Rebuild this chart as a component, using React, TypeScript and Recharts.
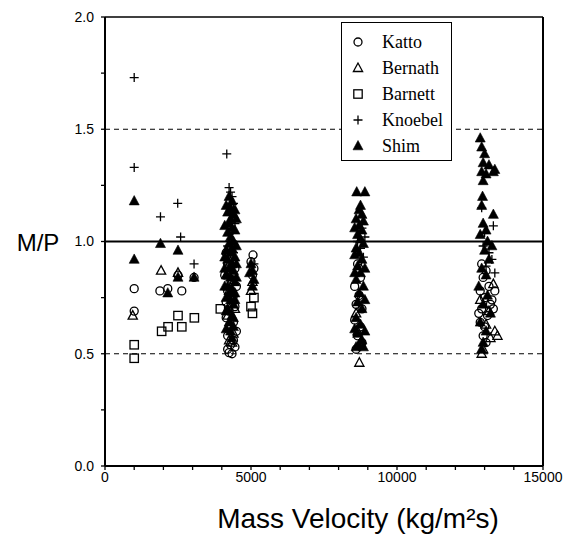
import React from 'react';
import { ScatterChart, Scatter, XAxis, YAxis, ReferenceLine, Label } from 'recharts';

// ---- Data (mass velocity kg/m2s, M/P ratio) ----
const katto: [number, number][] = [
  [1000, 0.79], [1000, 0.69], [1880, 0.78], [2150, 0.79], [2630, 0.78], [2500, 0.85], [3050, 0.84],
  [4150, 0.95], [4300, 0.93], [4200, 0.90], [4450, 0.88], [4100, 0.85], [4350, 0.83], [4500, 0.80],
  [4200, 0.78], [4400, 0.76], [4150, 0.73], [4450, 0.71], [4250, 0.69], [4150, 0.66], [4400, 0.64],
  [4300, 0.62], [4500, 0.60], [4200, 0.58], [4400, 0.56], [4300, 0.54], [4450, 0.53], [4200, 0.52],
  [4350, 0.50], [4250, 0.505],
  [5070, 0.94], [5000, 0.91], [5100, 0.88], [5050, 0.85],
  [8650, 0.90], [8700, 0.88], [8750, 0.84], [8550, 0.80], [8700, 0.76], [8600, 0.72], [8800, 0.70],
  [8550, 0.65], [8750, 0.62], [8650, 0.58], [8800, 0.55], [8600, 0.52],
  [12900, 0.90], [13050, 0.87], [12950, 0.84], [13150, 0.80], [12850, 0.78], [13350, 0.78], [13000, 0.75],
  [13250, 0.74], [13200, 0.72], [12900, 0.70], [13300, 0.70], [12800, 0.68], [13100, 0.67], [12850, 0.64],
  [13000, 0.62], [12950, 0.58], [13050, 0.55],
];

const bernath: [number, number][] = [
  [950, 0.67], [1920, 0.87], [2500, 0.86],
  [4300, 0.91], [4200, 0.86], [4400, 0.82], [4250, 0.78], [4350, 0.74], [4450, 0.70], [4200, 0.67],
  [4300, 0.63], [4400, 0.59], [4250, 0.56], [4350, 0.55],
  [5050, 0.82], [5000, 0.78],
  [8710, 0.46], [8600, 0.68], [8800, 0.75], [8650, 0.60], [8750, 0.55],
  [13300, 0.81], [13440, 0.58], [12950, 0.52], [12900, 0.50], [13200, 0.57], [13050, 0.63],
  [12850, 0.74], [13150, 0.69], [13350, 0.60],
];

const barnett: [number, number][] = [
  [1000, 0.54], [1000, 0.48], [1940, 0.60], [2160, 0.62], [2500, 0.67], [2630, 0.62], [3060, 0.66],
  [3950, 0.70], [5100, 0.75], [5000, 0.71], [5050, 0.68],
];

const knoebel: [number, number][] = [
  [1000, 1.73], [1000, 1.33], [1900, 1.11], [2490, 1.17], [2590, 1.02], [3050, 0.90],
  [4170, 1.39], [4250, 1.24], [4300, 1.22], [4350, 1.20], [4400, 1.17], [4300, 1.12], [4450, 1.08],
  [4250, 1.03], [4200, 0.98], [4400, 0.95], [4350, 0.90], [5100, 0.90],
  [8800, 1.06], [8900, 1.02], [8650, 1.00], [8750, 0.97], [8850, 0.93],
  [12900, 1.15], [13300, 1.07], [13000, 1.04], [12950, 0.98], [13150, 0.95], [13250, 0.92],
  [13050, 0.89], [13350, 0.86],
];

const shim: [number, number][] = [
  [1000, 1.18], [1000, 0.92], [1900, 0.99], [2500, 0.96], [2500, 0.84], [3050, 0.84], [2150, 0.77],
  [4250, 1.20], [4350, 1.18], [4300, 1.15], [4200, 1.13], [4400, 1.12], [4300, 1.10], [4250, 1.08],
  [4350, 1.06], [4450, 1.05], [4200, 1.04], [4300, 1.02], [4400, 1.00], [4250, 0.99], [4350, 0.97],
  [4150, 0.96], [4300, 0.95], [4450, 0.93], [4200, 0.92], [4350, 0.90], [4250, 0.88], [4400, 0.87],
  [4150, 0.85], [4300, 0.84], [4450, 0.82], [4200, 0.80], [4350, 0.79], [4250, 0.77], [4300, 0.74],
  [4400, 0.72], [4200, 0.70], [4350, 0.67], [4250, 0.64], [4300, 0.60],
  [4150, 1.16], [4450, 1.14], [4500, 1.10], [4100, 1.07], [4500, 0.98], [4100, 0.93], [4500, 0.90],
  [4100, 0.88], [4500, 0.84], [4100, 0.80], [4450, 0.77], [4150, 0.75], [4450, 0.74], [4400, 0.66],
  [4150, 0.69], [4400, 0.62], [4150, 0.61], [4350, 0.57],
  [5000, 0.90], [5050, 0.87], [4950, 0.86], [5100, 0.83], [5050, 0.80],
  [8620, 1.22], [8900, 1.22], [8750, 1.16], [8700, 1.14], [8800, 1.12], [8600, 1.10], [8850, 1.09],
  [8700, 1.07], [8550, 1.06], [8800, 1.05], [8650, 1.03], [8750, 1.01], [8850, 0.99], [8600, 0.97],
  [8700, 0.95], [8800, 0.92], [8650, 0.89], [8750, 0.86], [8600, 0.83], [8850, 0.80], [8700, 0.77],
  [8650, 0.73], [8800, 0.70], [8600, 0.66], [8750, 0.63], [8650, 0.59], [8800, 0.56], [8700, 0.54],
  [8600, 0.53], [8850, 0.53], [8550, 0.94], [8900, 0.88], [8550, 0.86], [8900, 0.74], [8550, 0.61],
  [8900, 0.60],
  [12850, 1.46], [12900, 1.42], [13000, 1.39], [12950, 1.35], [13150, 1.34], [13350, 1.32],
  [12900, 1.31], [13050, 1.30], [13300, 1.31], [12950, 1.27], [12930, 1.20], [12900, 1.16],
  [13300, 1.12], [12950, 1.08], [13050, 1.05], [12850, 1.03], [13100, 1.00], [13250, 0.98],
  [13000, 0.96], [13150, 0.92], [12900, 0.88], [13050, 0.85], [12800, 0.80], [13100, 0.76],
  [12950, 0.72], [13200, 0.68], [12850, 0.64], [13050, 0.60], [12950, 0.55], [12900, 0.52],
];

const xTicks = [0, 1000, 2000, 3000, 4000, 5000, 6000, 7000, 8000, 9000, 10000, 11000, 12000, 13000, 14000, 15000];
const yTicks = [0, 0.25, 0.5, 0.75, 1.0, 1.25, 1.5, 1.75, 2.0];

const toPts = (arr: [number, number][]) => arr.map(([x, y]) => ({ x, y }));

const INK = '#000';
const SANS = '"Liberation Sans", Arial, Helvetica, sans-serif';
const SERIF = '"Liberation Serif", "Times New Roman", serif';

const OpenCircle = (p: any) => (
  <circle cx={p.cx} cy={p.cy} r={4} fill="none" stroke={INK} strokeWidth={1.3} />
);
const OpenTriangle = (p: any) => (
  <polygon
    points={`${p.cx},${p.cy - 5} ${p.cx - 4.6},${p.cy + 3.5} ${p.cx + 4.6},${p.cy + 3.5}`}
    fill="none" stroke={INK} strokeWidth={1.3}
  />
);
const OpenSquare = (p: any) => (
  <rect x={p.cx - 4.2} y={p.cy - 4.2} width={8.4} height={8.4} fill="none" stroke={INK} strokeWidth={1.3} />
);
const Plus = (p: any) => (
  <path d={`M${p.cx - 4.5},${p.cy}H${p.cx + 4.5}M${p.cx},${p.cy - 4.5}V${p.cy + 4.5}`} stroke={INK} strokeWidth={1.3} fill="none" />
);
const FilledTriangle = (p: any) => (
  <polygon
    points={`${p.cx},${p.cy - 5.5} ${p.cx - 5},${p.cy + 3.8} ${p.cx + 5},${p.cy + 3.8}`}
    fill={INK} stroke={INK} strokeWidth={0.6}
  />
);

const legendItems = [
  { name: 'Katto', Shape: OpenCircle },
  { name: 'Bernath', Shape: OpenTriangle },
  { name: 'Barnett', Shape: OpenSquare },
  { name: 'Knoebel', Shape: Plus },
  { name: 'Shim', Shape: FilledTriangle },
];

const LegendBox = () => (
  <div
    style={{
      position: 'absolute', left: 341, top: 22, width: 111, height: 139,
      border: '1px solid #000', background: '#fff', boxSizing: 'border-box',
      paddingTop: 6,
    }}
  >
    {legendItems.map(({ name, Shape }) => (
      <div key={name} style={{ display: 'flex', alignItems: 'center', height: 26 }}>
        <svg width={30} height={26} style={{ flex: 'none' }}>
          <Shape cx={16} cy={13} />
        </svg>
        <span style={{ fontFamily: SERIF, fontSize: 18, marginLeft: 10, color: INK, lineHeight: '26px' }}>{name}</span>
      </div>
    ))}
  </div>
);

export default function App() {
  return (
    <div style={{ position: 'absolute', left: 0, top: 0, width: 571, height: 541, background: '#fff' }}>
      <ScatterChart width={571} height={541} margin={{ top: 17, right: 28, bottom: 45, left: 45 }}>
        <XAxis
          type="number" dataKey="x" domain={[0, 15000]} ticks={xTicks} interval={0}
          tickFormatter={(v: number) => (v % 5000 === 0 ? String(v) : '')}
          axisLine={{ stroke: INK, strokeWidth: 2 }} tickLine={{ stroke: INK, strokeWidth: 1.3 }} tickSize={4}
          tick={{ fill: INK, fontSize: 14, fontFamily: SANS }} height={30}
        >
          <Label
            content={() => (
              <text x={358} y={528} textAnchor="middle" fontSize={28} fontFamily={SANS} fill={INK}>
                Mass Velocity (kg/m²s)
              </text>
            )}
          />
        </XAxis>
        <YAxis
          type="number" dataKey="y" domain={[0, 2]} ticks={yTicks} interval={0}
          tickFormatter={(v: number) => ((v * 2) % 1 === 0 ? v.toFixed(1) : '')}
          axisLine={{ stroke: INK, strokeWidth: 2 }} tickLine={{ stroke: INK, strokeWidth: 1.3 }} tickSize={4}
          tickMargin={7}
          tick={{ fill: INK, fontSize: 14, fontFamily: SANS }} width={60}
        >
          <Label
            content={() => (
              <text x={38} y={251} textAnchor="middle" fontSize={24} fontFamily={SANS} fill={INK}>
                M/P
              </text>
            )}
          />
        </YAxis>
        <ReferenceLine y={2} stroke={INK} strokeWidth={1.5} />
        <ReferenceLine x={15000} stroke={INK} strokeWidth={2} />
        <ReferenceLine y={1.5} stroke={INK} strokeWidth={1} strokeDasharray="5 4" />
        <ReferenceLine y={0.5} stroke={INK} strokeWidth={1} strokeDasharray="5 4" />
        <ReferenceLine y={1} stroke={INK} strokeWidth={1.8} />
        <Scatter name="Katto" data={toPts(katto)} shape={OpenCircle} isAnimationActive={false} />
        <Scatter name="Bernath" data={toPts(bernath)} shape={OpenTriangle} isAnimationActive={false} />
        <Scatter name="Barnett" data={toPts(barnett)} shape={OpenSquare} isAnimationActive={false} />
        <Scatter name="Knoebel" data={toPts(knoebel)} shape={Plus} isAnimationActive={false} />
        <Scatter name="Shim" data={toPts(shim)} shape={FilledTriangle} isAnimationActive={false} />
      </ScatterChart>
      <LegendBox />
    </div>
  );
}
